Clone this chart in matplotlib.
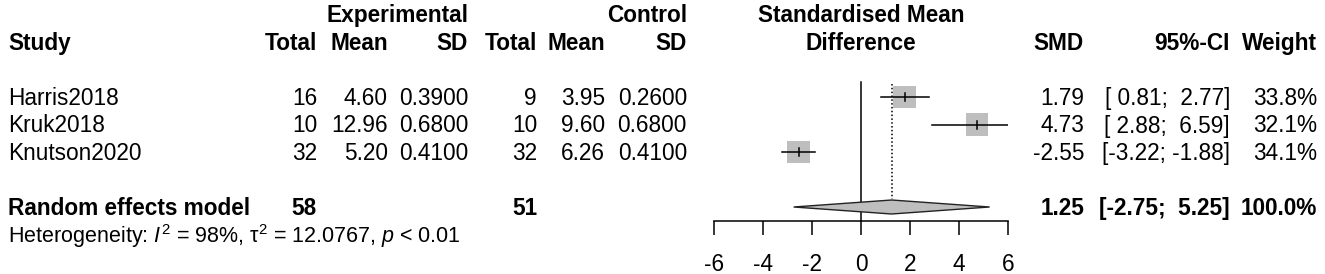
import matplotlib
matplotlib.use("Agg")
import matplotlib.pyplot as plt
from matplotlib.patches import Rectangle, Polygon
import numpy as np

plt.rcParams['font.family'] = ['Liberation Sans', 'DejaVu Sans']
plt.rcParams['mathtext.fontset'] = 'custom'
plt.rcParams['mathtext.rm'] = 'Liberation Sans'
plt.rcParams['mathtext.it'] = 'Liberation Sans:italic'
plt.rcParams['mathtext.bf'] = 'Liberation Sans:bold'

# ---- data ----
studies = ["Harris2018", "Kruk2018", "Knutson2020"]
exp_total = [16, 10, 32]
exp_mean = [4.60, 12.96, 5.20]
exp_sd = [0.39, 0.68, 0.41]
ctl_total = [9, 10, 32]
ctl_mean = [3.95, 9.60, 6.26]
ctl_sd = [0.26, 0.68, 0.41]
smd = [1.79, 4.73, -2.55]
ci_low = [0.81, 2.88, -3.22]
ci_high = [2.77, 6.59, -1.88]
weight = [33.8, 32.1, 34.1]
re_smd = 1.25
re_ci = (-2.75, 5.25)
re_exp_total = 58
re_ctl_total = 51
xticks = [-6, -4, -2, 0, 2, 4, 6]
het_text = r"Heterogeneity: $\mathit{I}^{2}$ = 98%, τ$^{2}$ = 12.0767, $\mathit{p}$ < 0.01"

W, H = 1325, 274
FS = 16.3
fig = plt.figure(figsize=(W / 100, H / 100), dpi=100)

# text layer in pixel coordinates
ax = fig.add_axes([0, 0, 1, 1])
ax.set_xlim(0, W)
ax.set_ylim(H, 0)
ax.axis('off')

# layout (baselines, pixel)
row_base = [105 + 27.5 * i for i in range(len(studies))]
row_center = [b - 8 for b in row_base]
hdr1, hdr2 = 22, 50
re_base, het_base = 215, 243
col = dict(et=317, em=388, esd=468, ct=537, cm=605, csd=687,
           smd=1084, ci=1230, w=1317)

def t(x, y, s, ha='right', bold=False, size=FS):
    ax.text(x, y, s, ha=ha, va='baseline', fontsize=size,
            fontweight='bold' if bold else 'normal', color='black')

# headers
t(468, hdr1, "Experimental", bold=True)
t(687, hdr1, "Control", bold=True)
t(861, hdr1, "Standardised Mean", ha='center', bold=True)
t(8, hdr2, "Study", ha='left', bold=True)
for k, s in [('et', 'Total'), ('em', 'Mean'), ('esd', 'SD'),
             ('ct', 'Total'), ('cm', 'Mean'), ('csd', 'SD'),
             ('smd', 'SMD'), ('ci', '95%-CI'), ('w', 'Weight')]:
    t(col[k], hdr2, s, bold=True)
t(861, hdr2, "Difference", ha='center', bold=True)

def fmt_ci(lo, hi):
    return "[{:>5};{:>6}]".format(f"{lo:.2f}", f"{hi:.2f}")

for i, name in enumerate(studies):
    y = row_base[i]
    t(8, y, name, ha='left')
    t(col['et'], y, f"{exp_total[i]}")
    t(col['em'], y, f"{exp_mean[i]:.2f}")
    t(col['esd'], y, f"{exp_sd[i]:.4f}")
    t(col['ct'], y, f"{ctl_total[i]}")
    t(col['cm'], y, f"{ctl_mean[i]:.2f}")
    t(col['csd'], y, f"{ctl_sd[i]:.4f}")
    t(col['smd'], y, f"{smd[i]:.2f}")
    t(col['ci'], y, fmt_ci(ci_low[i], ci_high[i]))
    t(col['w'], y, f"{weight[i]:.1f}%")

t(8, re_base, "Random effects model", ha='left', bold=True)
t(col['et'], re_base, f"{re_exp_total}", bold=True)
t(col['ct'], re_base, f"{re_ctl_total}", bold=True)
t(col['smd'], re_base, f"{re_smd:.2f}", bold=True)
t(col['ci'], re_base, fmt_ci(*re_ci), bold=True)
t(col['w'], re_base, "100.0%", bold=True)
t(8, het_base, het_text, ha='left', size=FS * 0.95)

# forest axes
x_left, x_right, y_axis = 714, 1008, 220.5
fx = fig.add_axes([x_left / W, (H - y_axis) / H, (x_right - x_left) / W, y_axis / H])
fx.set_xlim(min(xticks), max(xticks))
fx.set_ylim(y_axis, 0)
fx.patch.set_alpha(0)
for s in ['top', 'left', 'right']:
    fx.spines[s].set_visible(False)
fx.spines['bottom'].set_linewidth(1.1)
fx.spines['bottom'].set_bounds(min(xticks), max(xticks))
fx.set_yticks([])
fx.set_xticks(xticks)
fx.set_xticklabels([str(v) for v in xticks])
fx.tick_params(axis='x', direction='out', length=10, width=1.1, pad=13.5,
               labelsize=FS)

# reference lines
fx.plot([0, 0], [82, y_axis], color='black', lw=1.1, clip_on=False)
fx.plot([re_smd, re_smd], [84, 199], color='black', lw=1.1, ls=(0, (1, 1.5)))

px_per_unit = (x_right - x_left) / (max(xticks) - min(xticks))
base_side = 22.7
for i in range(len(studies)):
    yc = row_center[i]
    side = base_side * np.sqrt(weight[i] / np.mean(weight))
    wdat = side / px_per_unit
    fx.add_patch(Rectangle((smd[i] - wdat / 2, yc - side / 2), wdat, side,
                           facecolor='#bebebe', edgecolor='none', zorder=2))
    fx.plot([ci_low[i], ci_high[i]], [yc, yc], color='black', lw=1.1, zorder=3)
    fx.plot([smd[i], smd[i]], [yc - 4, yc + 4], color='black', lw=1.1, zorder=3)

# diamond
yc = 207
hh = 7
fx.add_patch(Polygon([[re_ci[0], yc], [re_smd, yc - hh], [re_ci[1], yc], [re_smd, yc + hh]],
                     closed=True, facecolor='#bebebe', edgecolor='#222222', lw=1.0, zorder=2))

fig.savefig("out.png", dpi=100)
